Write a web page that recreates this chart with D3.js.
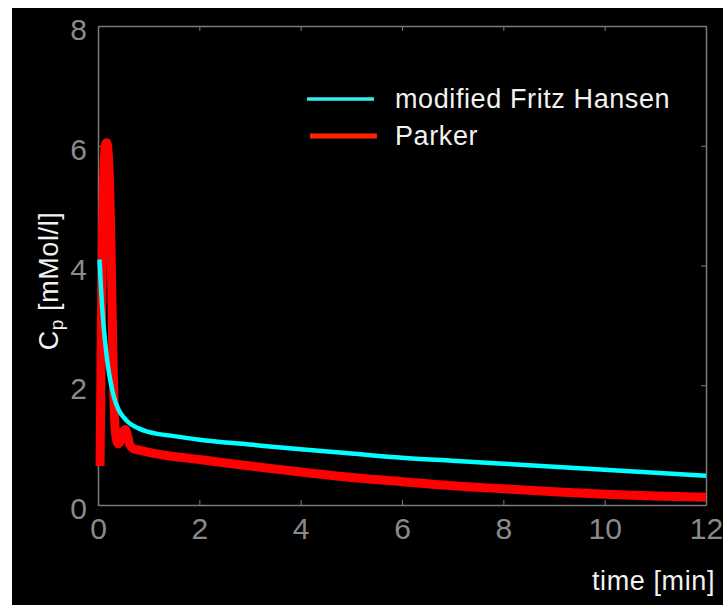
<!DOCTYPE html>
<html>
<head>
<meta charset="utf-8">
<script src="https://cdn.jsdelivr.net/npm/d3@7"></script>
<style>
  html, body { margin: 0; padding: 0; background: #fff; }
  svg { display: block; }
  text { font-family: "Liberation Sans", Arial, sans-serif; }
</style>
</head>
<body>
<div id="chart"></div>
<script>
// values
var hansenT = [0.03, 0.06, 0.1, 0.15, 0.2, 0.25, 0.3, 0.4, 0.5, 0.6, 0.8, 1.0, 1.5, 2, 3, 4, 5, 6, 7, 8, 9, 10, 11, 12];
var hansenC = [4.1, 3.6, 3.1, 2.65, 2.3, 2.05, 1.85, 1.6, 1.47, 1.38, 1.28, 1.22, 1.15, 1.09, 1.01, 0.93, 0.86, 0.79, 0.74, 0.69, 0.64, 0.59, 0.54, 0.49];

var parkerT = [0.04, 0.05, 0.07, 0.09, 0.11, 0.13, 0.15, 0.17, 0.19, 0.21, 0.23, 0.25, 0.27, 0.29, 0.31, 0.33, 0.36, 0.4, 0.45, 0.5, 0.54, 0.58, 0.63, 0.7, 0.85, 1.0, 1.5, 2, 3, 4, 5, 6, 7, 8, 9, 10, 11, 12];
var parkerC = [0.65, 1.5, 3.2, 4.6, 5.4, 5.85, 6.02, 6.05, 5.98, 5.75, 5.3, 4.6, 3.7, 2.7, 1.9, 1.4, 1.12, 1.02, 1.08, 1.22, 1.26, 1.17, 1.0, 0.94, 0.91, 0.88, 0.81, 0.76, 0.65, 0.55, 0.46, 0.39, 0.32, 0.27, 0.22, 0.18, 0.15, 0.13];

var xTicks = [0, 2, 4, 6, 8, 10, 12];
var yTicks = [0, 2, 4, 6, 8];
var seriesNames = ["modified Fritz Hansen", "Parker"];

var W = 723, H = 605;
var m = {left: 98, top: 26, right: 706, bottom: 505};

var svg = d3.select('#chart').append('svg')
    .attr('width', W)
    .attr('height', H);

// black panel
svg.append('rect')
    .attr('x', 12).attr('y', 8)
    .attr('width', W - 12).attr('height', H - 8)
    .attr('fill', '#000');

var x = d3.scaleLinear().domain([0, 12]).range([m.left, m.right]);
var y = d3.scaleLinear().domain([0, 8]).range([m.bottom, m.top]);

var axisCol = '#7a7a7a';
var labelFont = '"Liberation Sans", Arial, sans-serif';

var line = d3.line()
    .x(function(d) { return x(d[0]); })
    .y(function(d) { return y(d[1]); })
    .curve(d3.curveMonotoneX);

var parker = parkerT.map(function(t, i) { return [t, parkerC[i]]; });
var hansen = hansenT.map(function(t, i) { return [t, hansenC[i]]; });

// axes, ticks pointing inward on all four sides
function styleAxis(g) {
    g.select('.domain').attr('stroke', axisCol).attr('stroke-width', 1.5);
    g.selectAll('.tick line').attr('stroke', axisCol).attr('stroke-width', 1);
    g.selectAll('.tick text')
        .attr('fill', '#8a8a8a')
        .style('font-size', '30px')
        .style('font-family', labelFont);
}

svg.append('g')
    .attr('transform', 'translate(0,' + m.bottom + ')')
    .call(d3.axisBottom(x).tickValues(xTicks).tickSizeInner(-5).tickSizeOuter(0).tickPadding(13))
    .call(styleAxis);

svg.append('g')
    .attr('transform', 'translate(0,' + m.top + ')')
    .call(d3.axisTop(x).tickValues(xTicks).tickSizeInner(-5).tickSizeOuter(0).tickFormat(''))
    .call(styleAxis);

svg.append('g')
    .attr('transform', 'translate(' + m.left + ',0)')
    .call(d3.axisLeft(y).tickValues(yTicks).tickSizeInner(-5).tickSizeOuter(0).tickPadding(11))
    .call(styleAxis)
    .selectAll('.tick text').attr('dy', '0.45em');

svg.append('g')
    .attr('transform', 'translate(' + m.right + ',0)')
    .call(d3.axisRight(y).tickValues(yTicks).tickSizeInner(-5).tickSizeOuter(0).tickFormat(''))
    .call(styleAxis);

// curves
svg.append('path')
    .datum(parker)
    .attr('d', line)
    .attr('fill', 'none')
    .attr('stroke', '#ff0000')
    .attr('stroke-width', 9)
    .attr('stroke-linejoin', 'round');

svg.append('path')
    .datum(hansen)
    .attr('d', line)
    .attr('fill', 'none')
    .attr('stroke', '#00ffff')
    .attr('stroke-width', 4.5)
    .attr('stroke-linejoin', 'round');

// legend
var legend = svg.append('g');
var legendCols = ['#33eeee', '#ff2200'];
var legendW = [3.5, 5];
seriesNames.forEach(function(name, i) {
    var yy = 99 + i * 37;
    legend.append('line')
        .attr('x1', 307 + i * 3).attr('x2', 374 + i * 3)
        .attr('y1', yy).attr('y2', yy)
        .attr('stroke', legendCols[i])
        .attr('stroke-width', legendW[i]);
    legend.append('text')
        .attr('x', 395)
        .attr('y', yy + 9)
        .attr('fill', '#f2f2f2')
        .style('font-size', '27px')
        .style('letter-spacing', '0.6px')
        .text(name);
});

// axis labels
svg.append('text')
    .attr('x', 715)
    .attr('y', 590)
    .attr('text-anchor', 'end')
    .attr('fill', '#f2f2f2')
    .style('font-size', '27px')
    .style('letter-spacing', '0.6px')
    .text('time [min]');

var yl = svg.append('text')
    .attr('transform', 'translate(58,281) rotate(-90)')
    .attr('text-anchor', 'middle')
    .attr('fill', '#f2f2f2')
    .style('font-size', '27px')
    .style('letter-spacing', '0.6px');
yl.append('tspan').text('C');
yl.append('tspan').attr('dy', 5).style('font-size', '19px').text('p');
yl.append('tspan').attr('dy', -5).text(' [mMol/l]');
</script>
</body>
</html>
